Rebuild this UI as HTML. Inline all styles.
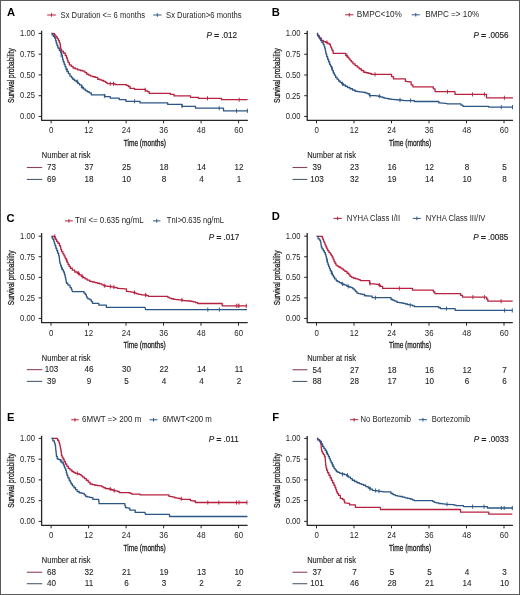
<!DOCTYPE html>
<html><head><meta charset="utf-8"><style>
html,body{margin:0;padding:0;background:#fff;}
svg{display:block;will-change:transform;}
text{font-family:"Liberation Sans", sans-serif;}
</style></head><body>
<svg width="520" height="595" viewBox="0 0 520 595">
<rect x="0" y="0" width="520" height="595" fill="#fff"/>
<rect x="0.5" y="0.5" width="519" height="594" fill="none" stroke="#5a5a5a" stroke-width="1"/>
<text x="6.9" y="16.05" font-size="11.2" font-weight="bold" fill="#000">A</text>
<line x1="47.2" y1="15.0" x2="55.9" y2="15.0" stroke="#B8203F" stroke-width="1.0"/>
<line x1="51.55" y1="13.20" x2="51.55" y2="16.80" stroke="#B8203F" stroke-width="1.0"/>
<text x="60.60" y="17.55" font-size="8.3" textLength="84.40" lengthAdjust="spacingAndGlyphs" fill="#1e1e1e">Sx Duration &lt;= 6 months</text>
<line x1="153.2" y1="15.0" x2="161.5" y2="15.0" stroke="#2F5A87" stroke-width="1.0"/>
<line x1="157.35" y1="13.20" x2="157.35" y2="16.80" stroke="#2F5A87" stroke-width="1.0"/>
<text x="166.10" y="17.55" font-size="8.3" textLength="75.50" lengthAdjust="spacingAndGlyphs" fill="#1e1e1e">Sx Duration&gt;6 months</text>
<path d="M41.6,30.85 V120.3 H247.9" fill="none" stroke="#262626" stroke-width="1.3" stroke-linejoin="round"/>
<line x1="38.6" y1="116.45" x2="41.6" y2="116.45" stroke="#262626" stroke-width="1"/>
<text transform="translate(34.90,119.25) scale(0.92,1)" font-size="8.3" fill="#1e1e1e" text-anchor="end">0.00</text>
<line x1="38.6" y1="95.69" x2="41.6" y2="95.69" stroke="#262626" stroke-width="1"/>
<text transform="translate(34.90,98.49) scale(0.92,1)" font-size="8.3" fill="#1e1e1e" text-anchor="end">0.25</text>
<line x1="38.6" y1="74.92" x2="41.6" y2="74.92" stroke="#262626" stroke-width="1"/>
<text transform="translate(34.90,77.72) scale(0.92,1)" font-size="8.3" fill="#1e1e1e" text-anchor="end">0.50</text>
<line x1="38.6" y1="54.16" x2="41.6" y2="54.16" stroke="#262626" stroke-width="1"/>
<text transform="translate(34.90,56.96) scale(0.92,1)" font-size="8.3" fill="#1e1e1e" text-anchor="end">0.75</text>
<line x1="38.6" y1="33.40" x2="41.6" y2="33.40" stroke="#262626" stroke-width="1"/>
<text transform="translate(34.90,36.20) scale(0.92,1)" font-size="8.3" fill="#1e1e1e" text-anchor="end">1.00</text>
<line x1="51.10" y1="120.3" x2="51.10" y2="123.3" stroke="#262626" stroke-width="1"/>
<text transform="translate(51.25,133.20) scale(0.95,1)" font-size="8.3" fill="#1e1e1e" text-anchor="middle">0</text>
<line x1="88.60" y1="120.3" x2="88.60" y2="123.3" stroke="#262626" stroke-width="1"/>
<text transform="translate(88.75,133.20) scale(0.95,1)" font-size="8.3" fill="#1e1e1e" text-anchor="middle">12</text>
<line x1="126.10" y1="120.3" x2="126.10" y2="123.3" stroke="#262626" stroke-width="1"/>
<text transform="translate(126.25,133.20) scale(0.95,1)" font-size="8.3" fill="#1e1e1e" text-anchor="middle">24</text>
<line x1="163.60" y1="120.3" x2="163.60" y2="123.3" stroke="#262626" stroke-width="1"/>
<text transform="translate(163.75,133.20) scale(0.95,1)" font-size="8.3" fill="#1e1e1e" text-anchor="middle">36</text>
<line x1="201.10" y1="120.3" x2="201.10" y2="123.3" stroke="#262626" stroke-width="1"/>
<text transform="translate(201.25,133.20) scale(0.95,1)" font-size="8.3" fill="#1e1e1e" text-anchor="middle">48</text>
<line x1="238.60" y1="120.3" x2="238.60" y2="123.3" stroke="#262626" stroke-width="1"/>
<text transform="translate(238.75,133.20) scale(0.95,1)" font-size="8.3" fill="#1e1e1e" text-anchor="middle">60</text>
<text transform="translate(144.75,145.65) scale(0.75,1)" font-size="8.8" fill="#1e1e1e" stroke="#1e1e1e" stroke-width="0.3" text-anchor="middle">Time (months)</text>
<text transform="translate(14.10,75.58) rotate(-90) scale(0.74,1)" font-size="8.8" fill="#1e1e1e" stroke="#1e1e1e" stroke-width="0.3" text-anchor="middle">Survival probability</text>
<text x="206.6" y="37.7" font-size="8.15" fill="#1e1e1e" stroke="#1e1e1e" stroke-width="0.15"><tspan font-style="italic">P</tspan> <tspan stroke-width="0.55">=</tspan> .012</text>
<path d="M51.60,33.40 L54.00,33.60 H54.62V35.17 H55.88V36.75 H56.50 H57.12V38.62 H58.38V40.50 H59.00 H59.31V42.38 H59.94V44.25 H60.25 H60.41V46.75 H60.74V49.25 H60.90 H61.50V51.10 H62.10 H63.35V53.00 H64.60 H65.22V55.50 H66.47V58.00 H67.10 H67.42V60.20 H68.08V62.40 H68.40 H69.33V64.90 H70.25 H71.19V66.45 H73.06V68.00 H74.00 H75.25V68.95 H77.75V69.90 H79.00 H80.25V70.50 H82.75V71.10 H84.00 H84.94V72.67 H86.81V74.25 H87.75 H88.69V75.17 H90.56V76.10 H91.50 H92.75V76.75 H95.25V77.40 H96.50 H97.75V79.25 H99.00 H99.94V79.88 H101.81V80.50 H102.75 H103.69V81.45 H105.56V82.40 H106.50 H107.00V83.60 H107.50 H115.00 V84.60 H125.60 H126.40V85.40 H127.20 H128.25V86.50 H129.30 H130.10V88.40 H130.90 H134.60 V89.40 H144.20 H145.50V90.90 H146.80 H147.60V91.70 H148.40 H149.20V93.30 H150.00 H169.80 H170.35V94.30 H170.90 H173.50 H174.05V95.90 H174.60 H189.90 H190.45V97.30 H191.00 H197.90 H198.40V98.30 H198.90 H221.50 V99.70 H247.60" fill="none" stroke="#B8203F" stroke-width="1.3" stroke-linejoin="round"/>
<line x1="110.3" y1="81.7" x2="110.3" y2="85.89999999999999" stroke="#B8203F" stroke-width="0.9"/>
<line x1="113.5" y1="81.7" x2="113.5" y2="85.89999999999999" stroke="#B8203F" stroke-width="0.9"/>
<line x1="145.2" y1="87.7" x2="145.2" y2="91.89999999999999" stroke="#B8203F" stroke-width="0.9"/>
<line x1="207.5" y1="96.2" x2="207.5" y2="100.39999999999999" stroke="#B8203F" stroke-width="0.9"/>
<line x1="239.2" y1="97.60000000000001" x2="239.2" y2="101.8" stroke="#B8203F" stroke-width="0.9"/>
<path d="M51.60,33.40 H52.17V34.90 H52.75 H53.38V36.45 H54.62V38.00 H55.25 H55.56V40.50 H56.19V43.00 H56.50 H56.98V45.50 H57.92V48.00 H58.40 H59.33V50.50 H60.25 H60.71V52.70 H61.64V54.90 H62.10 H62.26V57.08 H62.59V59.25 H62.75 H63.21V61.75 H64.14V64.25 H64.60 H65.07V66.75 H66.03V69.25 H66.50 H67.12V71.42 H68.38V73.60 H69.00 H69.95V76.10 H70.90 H71.53V77.67 H72.78V79.25 H73.40 H74.33V80.50 H76.17V81.75 H77.10 H77.89V83.33 H79.46V84.90 H80.25 H81.50V87.40 H82.75 H83.61V89.05 H85.34V90.70 H86.20 H87.20V91.75 H89.20V92.80 H90.20 H91.25V94.80 H92.30 H104.40 H104.90V96.60 H105.40 H109.20 H110.25V98.10 H111.30 H118.20 H119.25V99.70 H120.30 H125.10 H125.90V101.30 H126.70 H140.00 V102.90 H167.70 V104.40 H182.00 V106.30 H195.50 V108.20 H223.50 V110.80 H247.60" fill="none" stroke="#2B5685" stroke-width="1.3" stroke-linejoin="round"/>
<line x1="61.1" y1="53.1" x2="61.1" y2="57.300000000000004" stroke="#2B5685" stroke-width="0.9"/>
<line x1="67" y1="68.2" x2="67" y2="72.39999999999999" stroke="#2B5685" stroke-width="0.9"/>
<line x1="77.6" y1="79.60000000000001" x2="77.6" y2="83.8" stroke="#2B5685" stroke-width="0.9"/>
<line x1="82.2" y1="85.10000000000001" x2="82.2" y2="89.3" stroke="#2B5685" stroke-width="0.9"/>
<line x1="104.4" y1="93.9" x2="104.4" y2="98.1" stroke="#2B5685" stroke-width="0.9"/>
<line x1="134.6" y1="99.2" x2="134.6" y2="103.39999999999999" stroke="#2B5685" stroke-width="0.9"/>
<line x1="182" y1="103.9" x2="182" y2="108.1" stroke="#2B5685" stroke-width="0.9"/>
<line x1="219.2" y1="106.10000000000001" x2="219.2" y2="110.3" stroke="#2B5685" stroke-width="0.9"/>
<line x1="236.5" y1="108.7" x2="236.5" y2="112.89999999999999" stroke="#2B5685" stroke-width="0.9"/>
<line x1="247.4" y1="108.7" x2="247.4" y2="112.89999999999999" stroke="#2B5685" stroke-width="0.9"/>
<text transform="translate(41.800000000000004,158.3) scale(0.92,1)" font-size="8.15" fill="#1e1e1e" stroke="#1e1e1e" stroke-width="0.1">Number at risk</text>
<line x1="26.8" y1="167.5" x2="42.2" y2="167.5" stroke="#8A4458" stroke-width="1.1"/>
<text transform="translate(51.55,170.25) scale(0.9,1)" font-size="9" fill="#1e1e1e" stroke="#1e1e1e" stroke-width="0.1" text-anchor="middle">73</text>
<text transform="translate(89.05,170.25) scale(0.9,1)" font-size="9" fill="#1e1e1e" stroke="#1e1e1e" stroke-width="0.1" text-anchor="middle">37</text>
<text transform="translate(126.55,170.25) scale(0.9,1)" font-size="9" fill="#1e1e1e" stroke="#1e1e1e" stroke-width="0.1" text-anchor="middle">25</text>
<text transform="translate(164.05,170.25) scale(0.9,1)" font-size="9" fill="#1e1e1e" stroke="#1e1e1e" stroke-width="0.1" text-anchor="middle">18</text>
<text transform="translate(201.55,170.25) scale(0.9,1)" font-size="9" fill="#1e1e1e" stroke="#1e1e1e" stroke-width="0.1" text-anchor="middle">14</text>
<text transform="translate(239.05,170.25) scale(0.9,1)" font-size="9" fill="#1e1e1e" stroke="#1e1e1e" stroke-width="0.1" text-anchor="middle">12</text>
<line x1="26.8" y1="179.45" x2="42.2" y2="179.45" stroke="#4C5F74" stroke-width="1.1"/>
<text transform="translate(51.55,182.20) scale(0.9,1)" font-size="9" fill="#1e1e1e" stroke="#1e1e1e" stroke-width="0.1" text-anchor="middle">69</text>
<text transform="translate(89.05,182.20) scale(0.9,1)" font-size="9" fill="#1e1e1e" stroke="#1e1e1e" stroke-width="0.1" text-anchor="middle">18</text>
<text transform="translate(126.55,182.20) scale(0.9,1)" font-size="9" fill="#1e1e1e" stroke="#1e1e1e" stroke-width="0.1" text-anchor="middle">10</text>
<text transform="translate(164.05,182.20) scale(0.9,1)" font-size="9" fill="#1e1e1e" stroke="#1e1e1e" stroke-width="0.1" text-anchor="middle">8</text>
<text transform="translate(201.55,182.20) scale(0.9,1)" font-size="9" fill="#1e1e1e" stroke="#1e1e1e" stroke-width="0.1" text-anchor="middle">4</text>
<text transform="translate(239.05,182.20) scale(0.9,1)" font-size="9" fill="#1e1e1e" stroke="#1e1e1e" stroke-width="0.1" text-anchor="middle">1</text>
<text x="271.8" y="16.05" font-size="11.2" font-weight="bold" fill="#000">B</text>
<line x1="345.1" y1="14.8" x2="353.5" y2="14.8" stroke="#B8203F" stroke-width="1.0"/>
<line x1="349.30" y1="13.00" x2="349.30" y2="16.60" stroke="#B8203F" stroke-width="1.0"/>
<text x="356.80" y="17.35" font-size="8.3" textLength="45.10" lengthAdjust="spacingAndGlyphs" fill="#1e1e1e">BMPC&lt;10%</text>
<line x1="411.7" y1="14.8" x2="419.8" y2="14.8" stroke="#2F5A87" stroke-width="1.0"/>
<line x1="415.75" y1="13.00" x2="415.75" y2="16.60" stroke="#2F5A87" stroke-width="1.0"/>
<text x="425.20" y="17.35" font-size="8.3" textLength="54.00" lengthAdjust="spacingAndGlyphs" fill="#1e1e1e">BMPC =&gt; 10%</text>
<path d="M307.2,30.85 V120.3 H513.0" fill="none" stroke="#262626" stroke-width="1.3" stroke-linejoin="round"/>
<line x1="304.2" y1="116.45" x2="307.2" y2="116.45" stroke="#262626" stroke-width="1"/>
<text transform="translate(300.50,119.25) scale(0.92,1)" font-size="8.3" fill="#1e1e1e" text-anchor="end">0.00</text>
<line x1="304.2" y1="95.71" x2="307.2" y2="95.71" stroke="#262626" stroke-width="1"/>
<text transform="translate(300.50,98.51) scale(0.92,1)" font-size="8.3" fill="#1e1e1e" text-anchor="end">0.25</text>
<line x1="304.2" y1="74.97" x2="307.2" y2="74.97" stroke="#262626" stroke-width="1"/>
<text transform="translate(300.50,77.77) scale(0.92,1)" font-size="8.3" fill="#1e1e1e" text-anchor="end">0.50</text>
<line x1="304.2" y1="54.24" x2="307.2" y2="54.24" stroke="#262626" stroke-width="1"/>
<text transform="translate(300.50,57.04) scale(0.92,1)" font-size="8.3" fill="#1e1e1e" text-anchor="end">0.75</text>
<line x1="304.2" y1="33.50" x2="307.2" y2="33.50" stroke="#262626" stroke-width="1"/>
<text transform="translate(300.50,36.30) scale(0.92,1)" font-size="8.3" fill="#1e1e1e" text-anchor="end">1.00</text>
<line x1="316.50" y1="120.3" x2="316.50" y2="123.3" stroke="#262626" stroke-width="1"/>
<text transform="translate(316.65,133.20) scale(0.95,1)" font-size="8.3" fill="#1e1e1e" text-anchor="middle">0</text>
<line x1="354.00" y1="120.3" x2="354.00" y2="123.3" stroke="#262626" stroke-width="1"/>
<text transform="translate(354.15,133.20) scale(0.95,1)" font-size="8.3" fill="#1e1e1e" text-anchor="middle">12</text>
<line x1="391.50" y1="120.3" x2="391.50" y2="123.3" stroke="#262626" stroke-width="1"/>
<text transform="translate(391.65,133.20) scale(0.95,1)" font-size="8.3" fill="#1e1e1e" text-anchor="middle">24</text>
<line x1="429.00" y1="120.3" x2="429.00" y2="123.3" stroke="#262626" stroke-width="1"/>
<text transform="translate(429.15,133.20) scale(0.95,1)" font-size="8.3" fill="#1e1e1e" text-anchor="middle">36</text>
<line x1="466.50" y1="120.3" x2="466.50" y2="123.3" stroke="#262626" stroke-width="1"/>
<text transform="translate(466.65,133.20) scale(0.95,1)" font-size="8.3" fill="#1e1e1e" text-anchor="middle">48</text>
<line x1="504.00" y1="120.3" x2="504.00" y2="123.3" stroke="#262626" stroke-width="1"/>
<text transform="translate(504.15,133.20) scale(0.95,1)" font-size="8.3" fill="#1e1e1e" text-anchor="middle">60</text>
<text transform="translate(410.10,145.65) scale(0.75,1)" font-size="8.8" fill="#1e1e1e" stroke="#1e1e1e" stroke-width="0.3" text-anchor="middle">Time (months)</text>
<text transform="translate(279.70,75.58) rotate(-90) scale(0.74,1)" font-size="8.8" fill="#1e1e1e" stroke="#1e1e1e" stroke-width="0.3" text-anchor="middle">Survival probability</text>
<text x="473.5" y="38.0" font-size="8.15" fill="#1e1e1e" stroke="#1e1e1e" stroke-width="0.15"><tspan font-style="italic">P</tspan> <tspan stroke-width="0.55">=</tspan> .0056</text>
<path d="M316.90,33.50 H317.67V35.75 H319.23V38.00 H320.00 H321.25V40.50 H322.50 H323.50V41.60 H324.50 H325.70V42.40 H326.90 H327.67V43.33 H329.23V44.25 H330.00 H330.31V45.83 H330.94V47.40 H331.25 H331.56V48.95 H332.19V50.50 H332.50 H333.12V53.30 H333.75 H344.60 H345.75V55.60 H346.90 H347.55V57.20 H348.85V58.80 H349.50 H350.10V60.35 H351.30V61.90 H351.90 H352.95V63.80 H354.00 H355.12V65.60 H356.25 H357.19V67.17 H359.06V68.75 H360.00 H361.25V70.50 H363.75V72.25 H365.00 H366.04V72.75 H368.12V73.25 H370.21V73.75 H371.25 H371.62V74.40 H372.00 H390.60 H391.55V76.60 H392.50 H393.45V78.90 H394.40 H404.80 H405.40V81.30 H406.00 H407.00V81.60 H409.00V81.90 H410.00 H411.15V84.80 H412.30 H412.90V86.80 H413.50 H432.50 H433.35V88.80 H434.20 H435.05V91.70 H435.90 H454.40 H455.00V94.40 H455.60 H486.50 V97.80 H513.00" fill="none" stroke="#B8203F" stroke-width="1.3" stroke-linejoin="round"/>
<line x1="326.9" y1="40.3" x2="326.9" y2="44.5" stroke="#B8203F" stroke-width="0.9"/>
<line x1="346.9" y1="53.5" x2="346.9" y2="57.7" stroke="#B8203F" stroke-width="0.9"/>
<line x1="375" y1="72.30000000000001" x2="375" y2="76.5" stroke="#B8203F" stroke-width="0.9"/>
<line x1="447.5" y1="89.60000000000001" x2="447.5" y2="93.8" stroke="#B8203F" stroke-width="0.9"/>
<line x1="472.5" y1="92.30000000000001" x2="472.5" y2="96.5" stroke="#B8203F" stroke-width="0.9"/>
<line x1="484.4" y1="92.30000000000001" x2="484.4" y2="96.5" stroke="#B8203F" stroke-width="0.9"/>
<line x1="504.4" y1="95.7" x2="504.4" y2="99.89999999999999" stroke="#B8203F" stroke-width="0.9"/>
<path d="M316.90,33.50 H317.44V35.25 H318.53V37.00 H319.62V38.75 H320.71V40.50 H321.25 H321.88V42.38 H323.12V44.25 H323.75 H324.06V46.12 H324.69V48.00 H325.00 H325.21V50.08 H325.62V52.17 H326.04V54.25 H326.25 H326.71V56.75 H327.64V59.25 H328.10 H328.58V61.75 H329.52V64.25 H330.00 H330.48V66.12 H331.42V68.00 H331.90 H332.36V70.50 H333.29V73.00 H333.75 H334.38V75.20 H335.62V77.40 H336.25 H337.04V79.20 H338.61V81.00 H339.40 H340.17V82.38 H341.73V83.75 H342.50 H343.44V85.00 H345.31V86.25 H346.25 H347.50V87.50 H350.00V88.75 H351.25 H352.50V90.00 H355.00V91.25 H356.25 H357.34V91.56 H359.53V91.88 H361.72V92.19 H363.91V92.50 H365.00 H365.94V93.12 H367.81V93.75 H368.75 H369.38V95.60 H370.00 H375.00 H376.10V95.92 H378.30V96.25 H379.40 H380.33V96.87 H382.20V97.48 H384.07V98.10 H385.00 H385.94V98.42 H387.81V98.75 H389.69V99.08 H391.56V99.40 H392.50 L400.00,100.00 L405.00,100.60 H413.50 H414.35V101.50 H415.20 H437.70 H438.85V102.90 H440.00 L445.70,103.30 L447.50,103.80 H460.00 H460.95V105.05 H462.85V106.30 H463.80 H488.10 H488.75V107.10 H489.40 H512.80" fill="none" stroke="#2B5685" stroke-width="1.3" stroke-linejoin="round"/>
<line x1="331.9" y1="65.9" x2="331.9" y2="70.1" stroke="#2B5685" stroke-width="0.9"/>
<line x1="342.5" y1="81.65" x2="342.5" y2="85.85" stroke="#2B5685" stroke-width="0.9"/>
<line x1="370" y1="93.5" x2="370" y2="97.69999999999999" stroke="#2B5685" stroke-width="0.9"/>
<line x1="379.4" y1="94.15" x2="379.4" y2="98.35" stroke="#2B5685" stroke-width="0.9"/>
<line x1="400" y1="97.9" x2="400" y2="102.1" stroke="#2B5685" stroke-width="0.9"/>
<line x1="410.6" y1="98.30000000000001" x2="410.6" y2="102.5" stroke="#2B5685" stroke-width="0.9"/>
<line x1="501.3" y1="105.0" x2="501.3" y2="109.19999999999999" stroke="#2B5685" stroke-width="0.9"/>
<line x1="512.5" y1="105.0" x2="512.5" y2="109.19999999999999" stroke="#2B5685" stroke-width="0.9"/>
<text transform="translate(307.2,158.3) scale(0.92,1)" font-size="8.15" fill="#1e1e1e" stroke="#1e1e1e" stroke-width="0.1">Number at risk</text>
<line x1="292.5" y1="167.5" x2="307.3" y2="167.5" stroke="#8A4458" stroke-width="1.1"/>
<text transform="translate(316.95,170.25) scale(0.9,1)" font-size="9" fill="#1e1e1e" stroke="#1e1e1e" stroke-width="0.1" text-anchor="middle">39</text>
<text transform="translate(354.45,170.25) scale(0.9,1)" font-size="9" fill="#1e1e1e" stroke="#1e1e1e" stroke-width="0.1" text-anchor="middle">23</text>
<text transform="translate(391.95,170.25) scale(0.9,1)" font-size="9" fill="#1e1e1e" stroke="#1e1e1e" stroke-width="0.1" text-anchor="middle">16</text>
<text transform="translate(429.45,170.25) scale(0.9,1)" font-size="9" fill="#1e1e1e" stroke="#1e1e1e" stroke-width="0.1" text-anchor="middle">12</text>
<text transform="translate(466.95,170.25) scale(0.9,1)" font-size="9" fill="#1e1e1e" stroke="#1e1e1e" stroke-width="0.1" text-anchor="middle">8</text>
<text transform="translate(504.45,170.25) scale(0.9,1)" font-size="9" fill="#1e1e1e" stroke="#1e1e1e" stroke-width="0.1" text-anchor="middle">5</text>
<line x1="292.5" y1="179.45" x2="307.3" y2="179.45" stroke="#4C5F74" stroke-width="1.1"/>
<text transform="translate(316.95,182.20) scale(0.9,1)" font-size="9" fill="#1e1e1e" stroke="#1e1e1e" stroke-width="0.1" text-anchor="middle">103</text>
<text transform="translate(354.45,182.20) scale(0.9,1)" font-size="9" fill="#1e1e1e" stroke="#1e1e1e" stroke-width="0.1" text-anchor="middle">32</text>
<text transform="translate(391.95,182.20) scale(0.9,1)" font-size="9" fill="#1e1e1e" stroke="#1e1e1e" stroke-width="0.1" text-anchor="middle">19</text>
<text transform="translate(429.45,182.20) scale(0.9,1)" font-size="9" fill="#1e1e1e" stroke="#1e1e1e" stroke-width="0.1" text-anchor="middle">14</text>
<text transform="translate(466.95,182.20) scale(0.9,1)" font-size="9" fill="#1e1e1e" stroke="#1e1e1e" stroke-width="0.1" text-anchor="middle">10</text>
<text transform="translate(504.45,182.20) scale(0.9,1)" font-size="9" fill="#1e1e1e" stroke="#1e1e1e" stroke-width="0.1" text-anchor="middle">8</text>
<text x="6.5" y="221.65" font-size="11.2" font-weight="bold" fill="#000">C</text>
<line x1="65.0" y1="220.9" x2="72.8" y2="220.9" stroke="#B8203F" stroke-width="1.0"/>
<line x1="68.90" y1="219.10" x2="68.90" y2="222.70" stroke="#B8203F" stroke-width="1.0"/>
<text x="74.90" y="223.45" font-size="8.3" textLength="68.70" lengthAdjust="spacingAndGlyphs" fill="#1e1e1e">TnI &lt;= 0.635 ng/mL</text>
<line x1="153.0" y1="220.9" x2="160.4" y2="220.9" stroke="#2F5A87" stroke-width="1.0"/>
<line x1="156.70" y1="219.10" x2="156.70" y2="222.70" stroke="#2F5A87" stroke-width="1.0"/>
<text x="166.80" y="223.45" font-size="8.3" textLength="57.10" lengthAdjust="spacingAndGlyphs" fill="#1e1e1e">TnI&gt;0.635 ng/mL</text>
<path d="M41.6,233.1 V322.7 H247.7" fill="none" stroke="#262626" stroke-width="1.3" stroke-linejoin="round"/>
<line x1="38.6" y1="318.45" x2="41.6" y2="318.45" stroke="#262626" stroke-width="1"/>
<text transform="translate(34.90,321.25) scale(0.92,1)" font-size="8.3" fill="#1e1e1e" text-anchor="end">0.00</text>
<line x1="38.6" y1="297.89" x2="41.6" y2="297.89" stroke="#262626" stroke-width="1"/>
<text transform="translate(34.90,300.69) scale(0.92,1)" font-size="8.3" fill="#1e1e1e" text-anchor="end">0.25</text>
<line x1="38.6" y1="277.32" x2="41.6" y2="277.32" stroke="#262626" stroke-width="1"/>
<text transform="translate(34.90,280.12) scale(0.92,1)" font-size="8.3" fill="#1e1e1e" text-anchor="end">0.50</text>
<line x1="38.6" y1="256.76" x2="41.6" y2="256.76" stroke="#262626" stroke-width="1"/>
<text transform="translate(34.90,259.56) scale(0.92,1)" font-size="8.3" fill="#1e1e1e" text-anchor="end">0.75</text>
<line x1="38.6" y1="236.20" x2="41.6" y2="236.20" stroke="#262626" stroke-width="1"/>
<text transform="translate(34.90,239.00) scale(0.92,1)" font-size="8.3" fill="#1e1e1e" text-anchor="end">1.00</text>
<line x1="51.00" y1="322.7" x2="51.00" y2="325.7" stroke="#262626" stroke-width="1"/>
<text transform="translate(51.15,335.60) scale(0.95,1)" font-size="8.3" fill="#1e1e1e" text-anchor="middle">0</text>
<line x1="88.50" y1="322.7" x2="88.50" y2="325.7" stroke="#262626" stroke-width="1"/>
<text transform="translate(88.65,335.60) scale(0.95,1)" font-size="8.3" fill="#1e1e1e" text-anchor="middle">12</text>
<line x1="126.00" y1="322.7" x2="126.00" y2="325.7" stroke="#262626" stroke-width="1"/>
<text transform="translate(126.15,335.60) scale(0.95,1)" font-size="8.3" fill="#1e1e1e" text-anchor="middle">24</text>
<line x1="163.50" y1="322.7" x2="163.50" y2="325.7" stroke="#262626" stroke-width="1"/>
<text transform="translate(163.65,335.60) scale(0.95,1)" font-size="8.3" fill="#1e1e1e" text-anchor="middle">36</text>
<line x1="201.00" y1="322.7" x2="201.00" y2="325.7" stroke="#262626" stroke-width="1"/>
<text transform="translate(201.15,335.60) scale(0.95,1)" font-size="8.3" fill="#1e1e1e" text-anchor="middle">48</text>
<line x1="238.50" y1="322.7" x2="238.50" y2="325.7" stroke="#262626" stroke-width="1"/>
<text transform="translate(238.65,335.60) scale(0.95,1)" font-size="8.3" fill="#1e1e1e" text-anchor="middle">60</text>
<text transform="translate(144.65,348.05) scale(0.75,1)" font-size="8.8" fill="#1e1e1e" stroke="#1e1e1e" stroke-width="0.3" text-anchor="middle">Time (months)</text>
<text transform="translate(14.10,277.90) rotate(-90) scale(0.74,1)" font-size="8.8" fill="#1e1e1e" stroke="#1e1e1e" stroke-width="0.3" text-anchor="middle">Survival probability</text>
<text x="208.8" y="239.9" font-size="8.15" fill="#1e1e1e" stroke="#1e1e1e" stroke-width="0.15"><tspan font-style="italic">P</tspan> <tspan stroke-width="0.55">=</tspan> .017</text>
<path d="M51.60,236.30 H54.75 H55.06V237.90 H55.69V239.50 H56.00 H56.62V241.38 H57.88V243.25 H58.50 H59.45V245.75 H60.40 H60.55V247.62 H60.85V249.50 H61.00 H61.62V251.70 H62.88V253.90 H63.50 H64.02V255.97 H65.05V258.03 H66.08V260.10 H66.60 H67.07V262.30 H68.03V264.50 H68.50 H69.12V266.38 H70.38V268.25 H71.00 H72.25V270.12 H74.75V272.00 H76.00 H77.25V273.25 H78.50 H79.44V274.82 H81.31V276.40 H82.25 H83.19V277.65 H85.06V278.90 H86.00 H87.25V280.15 H89.75V281.40 H91.00 H92.25V282.00 H94.75V282.60 H96.00 H97.25V283.25 H99.75V283.90 H101.00 H101.94V284.82 H103.81V285.75 H104.75 H105.69V286.07 H107.56V286.40 H108.50 L110.40,286.50 H111.25V286.80 H112.95V287.10 H113.80 H114.95V287.70 H117.25V288.30 H118.40 L125.40,288.80 H126.45V291.30 H127.50 H128.65V291.70 H130.95V292.10 H133.25V292.50 H134.40 H135.18V293.15 H136.72V293.80 H137.50 H138.75V294.30 H141.25V294.80 H142.50 L145.60,295.00 H146.55V295.65 H148.45V296.30 H149.40 H166.90 H167.68V297.20 H169.22V298.10 H170.00 H171.25V298.75 H173.75V299.40 H175.00 H176.15V299.60 H178.45V299.80 H180.75V300.00 H181.90 H182.85V300.60 H183.80 L190.00,301.00 H191.10V301.45 H193.30V301.90 H194.40 H195.50V302.70 H197.70V303.50 H198.80 H221.30 H222.20V305.80 H223.10 H247.00" fill="none" stroke="#B8203F" stroke-width="1.3" stroke-linejoin="round"/>
<line x1="54.75" y1="234.3" x2="54.75" y2="238.5" stroke="#B8203F" stroke-width="0.9"/>
<line x1="66.6" y1="258.0" x2="66.6" y2="262.20000000000005" stroke="#B8203F" stroke-width="0.9"/>
<line x1="78.5" y1="271.15" x2="78.5" y2="275.35" stroke="#B8203F" stroke-width="0.9"/>
<line x1="82.25" y1="274.29999999999995" x2="82.25" y2="278.5" stroke="#B8203F" stroke-width="0.9"/>
<line x1="104.75" y1="283.65" x2="104.75" y2="287.85" stroke="#B8203F" stroke-width="0.9"/>
<line x1="110.4" y1="284.4" x2="110.4" y2="288.6" stroke="#B8203F" stroke-width="0.9"/>
<line x1="113.8" y1="285.0" x2="113.8" y2="289.20000000000005" stroke="#B8203F" stroke-width="0.9"/>
<line x1="134.4" y1="290.4" x2="134.4" y2="294.6" stroke="#B8203F" stroke-width="0.9"/>
<line x1="145.6" y1="292.9" x2="145.6" y2="297.1" stroke="#B8203F" stroke-width="0.9"/>
<line x1="181.9" y1="297.9" x2="181.9" y2="302.1" stroke="#B8203F" stroke-width="0.9"/>
<line x1="236.3" y1="303.7" x2="236.3" y2="307.90000000000003" stroke="#B8203F" stroke-width="0.9"/>
<line x1="238.1" y1="303.7" x2="238.1" y2="307.90000000000003" stroke="#B8203F" stroke-width="0.9"/>
<line x1="239" y1="303.7" x2="239" y2="307.90000000000003" stroke="#B8203F" stroke-width="0.9"/>
<line x1="246.3" y1="303.7" x2="246.3" y2="307.90000000000003" stroke="#B8203F" stroke-width="0.9"/>
<path d="M51.60,236.30 H52.08V237.90 H53.02V239.50 H53.50 H53.82V241.58 H54.45V243.67 H55.08V245.75 H55.40 H55.86V248.25 H56.79V250.75 H57.25 H57.71V253.25 H58.64V255.75 H59.10 H59.21V257.83 H59.42V259.92 H59.64V262.00 H59.75 H60.06V263.87 H60.67V265.73 H61.29V267.60 H61.60 H62.23V269.80 H63.47V272.00 H64.10 H64.42V274.50 H65.08V277.00 H65.40 H65.60V279.08 H66.00V281.17 H66.40V283.25 H66.60 H67.85V285.10 H69.10 H70.05V287.60 H71.00 H71.31V289.18 H71.94V290.75 H72.25 L72.50,291.60 H83.30 H84.00V293.10 H85.40V294.60 H86.10 H86.40V296.35 H87.00V298.10 H87.30 H88.17V298.95 H89.92V299.80 H90.80 H91.38V301.55 H92.52V303.30 H93.10 H98.30 H98.85V305.20 H99.40 H105.80 H106.35V307.30 H106.90 H145.00 L145.60,309.60 H247.00" fill="none" stroke="#2B5685" stroke-width="1.3" stroke-linejoin="round"/>
<line x1="61.6" y1="265.5" x2="61.6" y2="269.70000000000005" stroke="#2B5685" stroke-width="0.9"/>
<line x1="207.8" y1="307.5" x2="207.8" y2="311.70000000000005" stroke="#2B5685" stroke-width="0.9"/>
<line x1="219.4" y1="307.5" x2="219.4" y2="311.70000000000005" stroke="#2B5685" stroke-width="0.9"/>
<text transform="translate(41.800000000000004,361.0) scale(0.92,1)" font-size="8.15" fill="#1e1e1e" stroke="#1e1e1e" stroke-width="0.1">Number at risk</text>
<line x1="26.8" y1="369.65" x2="42.2" y2="369.65" stroke="#8A4458" stroke-width="1.1"/>
<text transform="translate(51.45,372.40) scale(0.9,1)" font-size="9" fill="#1e1e1e" stroke="#1e1e1e" stroke-width="0.1" text-anchor="middle">103</text>
<text transform="translate(88.95,372.40) scale(0.9,1)" font-size="9" fill="#1e1e1e" stroke="#1e1e1e" stroke-width="0.1" text-anchor="middle">46</text>
<text transform="translate(126.45,372.40) scale(0.9,1)" font-size="9" fill="#1e1e1e" stroke="#1e1e1e" stroke-width="0.1" text-anchor="middle">30</text>
<text transform="translate(163.95,372.40) scale(0.9,1)" font-size="9" fill="#1e1e1e" stroke="#1e1e1e" stroke-width="0.1" text-anchor="middle">22</text>
<text transform="translate(201.45,372.40) scale(0.9,1)" font-size="9" fill="#1e1e1e" stroke="#1e1e1e" stroke-width="0.1" text-anchor="middle">14</text>
<text transform="translate(238.95,372.40) scale(0.9,1)" font-size="9" fill="#1e1e1e" stroke="#1e1e1e" stroke-width="0.1" text-anchor="middle">11</text>
<line x1="26.8" y1="381.4" x2="42.2" y2="381.4" stroke="#4C5F74" stroke-width="1.1"/>
<text transform="translate(51.45,384.15) scale(0.9,1)" font-size="9" fill="#1e1e1e" stroke="#1e1e1e" stroke-width="0.1" text-anchor="middle">39</text>
<text transform="translate(88.95,384.15) scale(0.9,1)" font-size="9" fill="#1e1e1e" stroke="#1e1e1e" stroke-width="0.1" text-anchor="middle">9</text>
<text transform="translate(126.45,384.15) scale(0.9,1)" font-size="9" fill="#1e1e1e" stroke="#1e1e1e" stroke-width="0.1" text-anchor="middle">5</text>
<text transform="translate(163.95,384.15) scale(0.9,1)" font-size="9" fill="#1e1e1e" stroke="#1e1e1e" stroke-width="0.1" text-anchor="middle">4</text>
<text transform="translate(201.45,384.15) scale(0.9,1)" font-size="9" fill="#1e1e1e" stroke="#1e1e1e" stroke-width="0.1" text-anchor="middle">4</text>
<text transform="translate(238.95,384.15) scale(0.9,1)" font-size="9" fill="#1e1e1e" stroke="#1e1e1e" stroke-width="0.1" text-anchor="middle">2</text>
<text x="271.7" y="219.6" font-size="11.2" font-weight="bold" fill="#000">D</text>
<line x1="333.5" y1="218.4" x2="341.8" y2="218.4" stroke="#B8203F" stroke-width="1.0"/>
<line x1="337.65" y1="216.60" x2="337.65" y2="220.20" stroke="#B8203F" stroke-width="1.0"/>
<text x="346.80" y="220.95" font-size="8.3" textLength="53.30" lengthAdjust="spacingAndGlyphs" fill="#1e1e1e">NYHA Class I/II</text>
<line x1="412.8" y1="218.4" x2="420.9" y2="218.4" stroke="#2F5A87" stroke-width="1.0"/>
<line x1="416.85" y1="216.60" x2="416.85" y2="220.20" stroke="#2F5A87" stroke-width="1.0"/>
<text x="425.80" y="220.95" font-size="8.3" textLength="59.60" lengthAdjust="spacingAndGlyphs" fill="#1e1e1e">NYHA Class III/IV</text>
<path d="M307.2,233.1 V322.7 H512.8" fill="none" stroke="#262626" stroke-width="1.3" stroke-linejoin="round"/>
<line x1="304.2" y1="318.45" x2="307.2" y2="318.45" stroke="#262626" stroke-width="1"/>
<text transform="translate(300.50,321.25) scale(0.92,1)" font-size="8.3" fill="#1e1e1e" text-anchor="end">0.00</text>
<line x1="304.2" y1="297.89" x2="307.2" y2="297.89" stroke="#262626" stroke-width="1"/>
<text transform="translate(300.50,300.69) scale(0.92,1)" font-size="8.3" fill="#1e1e1e" text-anchor="end">0.25</text>
<line x1="304.2" y1="277.32" x2="307.2" y2="277.32" stroke="#262626" stroke-width="1"/>
<text transform="translate(300.50,280.12) scale(0.92,1)" font-size="8.3" fill="#1e1e1e" text-anchor="end">0.50</text>
<line x1="304.2" y1="256.76" x2="307.2" y2="256.76" stroke="#262626" stroke-width="1"/>
<text transform="translate(300.50,259.56) scale(0.92,1)" font-size="8.3" fill="#1e1e1e" text-anchor="end">0.75</text>
<line x1="304.2" y1="236.20" x2="307.2" y2="236.20" stroke="#262626" stroke-width="1"/>
<text transform="translate(300.50,239.00) scale(0.92,1)" font-size="8.3" fill="#1e1e1e" text-anchor="end">1.00</text>
<line x1="316.50" y1="322.7" x2="316.50" y2="325.7" stroke="#262626" stroke-width="1"/>
<text transform="translate(316.65,335.60) scale(0.95,1)" font-size="8.3" fill="#1e1e1e" text-anchor="middle">0</text>
<line x1="354.00" y1="322.7" x2="354.00" y2="325.7" stroke="#262626" stroke-width="1"/>
<text transform="translate(354.15,335.60) scale(0.95,1)" font-size="8.3" fill="#1e1e1e" text-anchor="middle">12</text>
<line x1="391.50" y1="322.7" x2="391.50" y2="325.7" stroke="#262626" stroke-width="1"/>
<text transform="translate(391.65,335.60) scale(0.95,1)" font-size="8.3" fill="#1e1e1e" text-anchor="middle">24</text>
<line x1="429.00" y1="322.7" x2="429.00" y2="325.7" stroke="#262626" stroke-width="1"/>
<text transform="translate(429.15,335.60) scale(0.95,1)" font-size="8.3" fill="#1e1e1e" text-anchor="middle">36</text>
<line x1="466.50" y1="322.7" x2="466.50" y2="325.7" stroke="#262626" stroke-width="1"/>
<text transform="translate(466.65,335.60) scale(0.95,1)" font-size="8.3" fill="#1e1e1e" text-anchor="middle">48</text>
<line x1="504.00" y1="322.7" x2="504.00" y2="325.7" stroke="#262626" stroke-width="1"/>
<text transform="translate(504.15,335.60) scale(0.95,1)" font-size="8.3" fill="#1e1e1e" text-anchor="middle">60</text>
<text transform="translate(410.00,348.05) scale(0.75,1)" font-size="8.8" fill="#1e1e1e" stroke="#1e1e1e" stroke-width="0.3" text-anchor="middle">Time (months)</text>
<text transform="translate(279.70,277.90) rotate(-90) scale(0.74,1)" font-size="8.8" fill="#1e1e1e" stroke="#1e1e1e" stroke-width="0.3" text-anchor="middle">Survival probability</text>
<text x="473.2" y="239.6" font-size="8.15" fill="#1e1e1e" stroke="#1e1e1e" stroke-width="0.15"><tspan font-style="italic">P</tspan> <tspan stroke-width="0.55">=</tspan> .0085</text>
<path d="M316.70,236.30 H322.00 H322.31V237.90 H322.94V239.50 H323.25 H323.56V241.05 H324.19V242.60 H324.50 H324.98V244.80 H325.92V247.00 H326.40 H326.86V248.88 H327.79V250.75 H328.25 H328.88V252.32 H330.12V253.90 H330.75 H331.21V255.45 H332.14V257.00 H332.60 H333.08V259.20 H334.02V261.40 H334.50 H334.98V263.25 H335.92V265.10 H336.40 H337.17V266.05 H338.73V267.00 H339.50 H340.27V267.95 H341.83V268.90 H342.60 H343.39V270.15 H344.96V271.40 H345.75 H347.00V273.25 H348.25 H348.88V274.82 H350.12V276.40 H350.75 H351.69V277.32 H353.56V278.25 H354.50 H355.75V278.93 H358.25V279.60 H359.50 H360.25V280.60 H361.00 H369.60 V283.60 H370.59V283.78 H372.56V283.95 H374.54V284.12 H376.51V284.30 H377.50 H378.45V285.10 H379.40 H380.45V286.40 H381.50 H382.62V288.40 H383.75 H411.90 H412.50V290.20 H413.10 H432.70 H433.43V291.90 H434.88V293.60 H435.60 H460.20 H460.75V295.40 H461.30 H462.50V297.10 H463.70 H486.10 H486.68V299.15 H487.82V301.20 H488.40 H512.70" fill="none" stroke="#B8203F" stroke-width="1.3" stroke-linejoin="round"/>
<line x1="370" y1="281.5" x2="370" y2="285.70000000000005" stroke="#B8203F" stroke-width="0.9"/>
<line x1="379.4" y1="283.0" x2="379.4" y2="287.20000000000005" stroke="#B8203F" stroke-width="0.9"/>
<line x1="399.4" y1="286.29999999999995" x2="399.4" y2="290.5" stroke="#B8203F" stroke-width="0.9"/>
<line x1="472.9" y1="295.0" x2="472.9" y2="299.20000000000005" stroke="#B8203F" stroke-width="0.9"/>
<line x1="484.4" y1="295.0" x2="484.4" y2="299.20000000000005" stroke="#B8203F" stroke-width="0.9"/>
<line x1="501.1" y1="299.09999999999997" x2="501.1" y2="303.3" stroke="#B8203F" stroke-width="0.9"/>
<path d="M316.70,236.30 H318.10V238.90 H319.50 H319.81V240.45 H320.44V242.00 H320.75 H320.91V244.50 H321.24V247.00 H321.40 H322.02V248.88 H323.27V250.75 H323.90 H324.36V252.62 H325.29V254.50 H325.75 H325.96V256.37 H326.38V258.23 H326.79V260.10 H327.00 H327.31V262.30 H327.94V264.50 H328.25 H328.67V266.58 H329.50V268.67 H330.33V270.75 H330.75 H331.38V273.25 H332.00 H332.48V275.12 H333.42V277.00 H333.90 H334.67V278.88 H336.23V280.75 H337.00 H337.77V281.68 H339.33V282.60 H340.10 H341.35V283.90 H342.60 H343.39V284.50 H344.96V285.10 H345.75 H347.00V286.40 H348.25 H349.19V287.00 H351.06V287.60 H352.00 H352.77V288.85 H354.33V290.10 H355.10 H355.70V291.60 H356.90V293.10 H357.50 H358.54V293.57 H360.62V294.03 H362.71V294.50 H363.75 H364.68V295.75 H365.60 L371.25,296.20 H372.18V297.70 H373.10 H390.00 H391.05V299.50 H392.10 H392.98V300.35 H394.73V301.20 H395.60 H397.00V302.40 H398.40 H399.37V302.70 H401.30V303.00 H403.23V303.30 H404.20 H405.35V304.00 H407.65V304.70 H408.80 L411.90,305.20 H412.77V305.95 H414.52V306.70 H415.40 H437.30 H438.45V307.50 H439.60 H440.30V308.60 H441.00 H454.60 H455.15V310.40 H455.70 H512.70" fill="none" stroke="#2B5685" stroke-width="1.3" stroke-linejoin="round"/>
<line x1="327" y1="258.0" x2="327" y2="262.20000000000005" stroke="#2B5685" stroke-width="0.9"/>
<line x1="332" y1="271.15" x2="332" y2="275.35" stroke="#2B5685" stroke-width="0.9"/>
<line x1="342.6" y1="281.79999999999995" x2="342.6" y2="286.0" stroke="#2B5685" stroke-width="0.9"/>
<line x1="348.25" y1="284.29999999999995" x2="348.25" y2="288.5" stroke="#2B5685" stroke-width="0.9"/>
<line x1="375.4" y1="295.7" x2="375.4" y2="299.90000000000003" stroke="#2B5685" stroke-width="0.9"/>
<line x1="410.2" y1="303.09999999999997" x2="410.2" y2="307.3" stroke="#2B5685" stroke-width="0.9"/>
<line x1="446.5" y1="306.5" x2="446.5" y2="310.70000000000005" stroke="#2B5685" stroke-width="0.9"/>
<line x1="504.6" y1="308.29999999999995" x2="504.6" y2="312.5" stroke="#2B5685" stroke-width="0.9"/>
<line x1="512.3" y1="308.29999999999995" x2="512.3" y2="312.5" stroke="#2B5685" stroke-width="0.9"/>
<text transform="translate(307.2,361.0) scale(0.92,1)" font-size="8.15" fill="#1e1e1e" stroke="#1e1e1e" stroke-width="0.1">Number at risk</text>
<line x1="292.5" y1="369.75" x2="307.3" y2="369.75" stroke="#8A4458" stroke-width="1.1"/>
<text transform="translate(316.95,372.50) scale(0.9,1)" font-size="9" fill="#1e1e1e" stroke="#1e1e1e" stroke-width="0.1" text-anchor="middle">54</text>
<text transform="translate(354.45,372.50) scale(0.9,1)" font-size="9" fill="#1e1e1e" stroke="#1e1e1e" stroke-width="0.1" text-anchor="middle">27</text>
<text transform="translate(391.95,372.50) scale(0.9,1)" font-size="9" fill="#1e1e1e" stroke="#1e1e1e" stroke-width="0.1" text-anchor="middle">18</text>
<text transform="translate(429.45,372.50) scale(0.9,1)" font-size="9" fill="#1e1e1e" stroke="#1e1e1e" stroke-width="0.1" text-anchor="middle">16</text>
<text transform="translate(466.95,372.50) scale(0.9,1)" font-size="9" fill="#1e1e1e" stroke="#1e1e1e" stroke-width="0.1" text-anchor="middle">12</text>
<text transform="translate(504.45,372.50) scale(0.9,1)" font-size="9" fill="#1e1e1e" stroke="#1e1e1e" stroke-width="0.1" text-anchor="middle">7</text>
<line x1="292.5" y1="381.45" x2="307.3" y2="381.45" stroke="#4C5F74" stroke-width="1.1"/>
<text transform="translate(316.95,384.20) scale(0.9,1)" font-size="9" fill="#1e1e1e" stroke="#1e1e1e" stroke-width="0.1" text-anchor="middle">88</text>
<text transform="translate(354.45,384.20) scale(0.9,1)" font-size="9" fill="#1e1e1e" stroke="#1e1e1e" stroke-width="0.1" text-anchor="middle">28</text>
<text transform="translate(391.95,384.20) scale(0.9,1)" font-size="9" fill="#1e1e1e" stroke="#1e1e1e" stroke-width="0.1" text-anchor="middle">17</text>
<text transform="translate(429.45,384.20) scale(0.9,1)" font-size="9" fill="#1e1e1e" stroke="#1e1e1e" stroke-width="0.1" text-anchor="middle">10</text>
<text transform="translate(466.95,384.20) scale(0.9,1)" font-size="9" fill="#1e1e1e" stroke="#1e1e1e" stroke-width="0.1" text-anchor="middle">6</text>
<text transform="translate(504.45,384.20) scale(0.9,1)" font-size="9" fill="#1e1e1e" stroke="#1e1e1e" stroke-width="0.1" text-anchor="middle">6</text>
<text x="7.0" y="421.1" font-size="11.2" font-weight="bold" fill="#000">E</text>
<line x1="71.2" y1="419.8" x2="78.7" y2="419.8" stroke="#B8203F" stroke-width="1.0"/>
<line x1="74.95" y1="418.00" x2="74.95" y2="421.60" stroke="#B8203F" stroke-width="1.0"/>
<text x="82.10" y="422.35" font-size="8.3" textLength="59.20" lengthAdjust="spacingAndGlyphs" fill="#1e1e1e">6MWT =&gt; 200 m</text>
<line x1="149.5" y1="419.8" x2="157.6" y2="419.8" stroke="#2F5A87" stroke-width="1.0"/>
<line x1="153.55" y1="418.00" x2="153.55" y2="421.60" stroke="#2F5A87" stroke-width="1.0"/>
<text x="162.50" y="422.35" font-size="8.3" textLength="49.30" lengthAdjust="spacingAndGlyphs" fill="#1e1e1e">6MWT&lt;200 m</text>
<path d="M41.6,435.8 V525.3 H247.6" fill="none" stroke="#262626" stroke-width="1.3" stroke-linejoin="round"/>
<line x1="38.6" y1="521.40" x2="41.6" y2="521.40" stroke="#262626" stroke-width="1"/>
<text transform="translate(34.90,524.20) scale(0.92,1)" font-size="8.3" fill="#1e1e1e" text-anchor="end">0.00</text>
<line x1="38.6" y1="500.65" x2="41.6" y2="500.65" stroke="#262626" stroke-width="1"/>
<text transform="translate(34.90,503.45) scale(0.92,1)" font-size="8.3" fill="#1e1e1e" text-anchor="end">0.25</text>
<line x1="38.6" y1="479.90" x2="41.6" y2="479.90" stroke="#262626" stroke-width="1"/>
<text transform="translate(34.90,482.70) scale(0.92,1)" font-size="8.3" fill="#1e1e1e" text-anchor="end">0.50</text>
<line x1="38.6" y1="459.15" x2="41.6" y2="459.15" stroke="#262626" stroke-width="1"/>
<text transform="translate(34.90,461.95) scale(0.92,1)" font-size="8.3" fill="#1e1e1e" text-anchor="end">0.75</text>
<line x1="38.6" y1="438.40" x2="41.6" y2="438.40" stroke="#262626" stroke-width="1"/>
<text transform="translate(34.90,441.20) scale(0.92,1)" font-size="8.3" fill="#1e1e1e" text-anchor="end">1.00</text>
<line x1="51.10" y1="525.3" x2="51.10" y2="528.3" stroke="#262626" stroke-width="1"/>
<text transform="translate(51.25,538.20) scale(0.95,1)" font-size="8.3" fill="#1e1e1e" text-anchor="middle">0</text>
<line x1="88.60" y1="525.3" x2="88.60" y2="528.3" stroke="#262626" stroke-width="1"/>
<text transform="translate(88.75,538.20) scale(0.95,1)" font-size="8.3" fill="#1e1e1e" text-anchor="middle">12</text>
<line x1="126.10" y1="525.3" x2="126.10" y2="528.3" stroke="#262626" stroke-width="1"/>
<text transform="translate(126.25,538.20) scale(0.95,1)" font-size="8.3" fill="#1e1e1e" text-anchor="middle">24</text>
<line x1="163.60" y1="525.3" x2="163.60" y2="528.3" stroke="#262626" stroke-width="1"/>
<text transform="translate(163.75,538.20) scale(0.95,1)" font-size="8.3" fill="#1e1e1e" text-anchor="middle">36</text>
<line x1="201.10" y1="525.3" x2="201.10" y2="528.3" stroke="#262626" stroke-width="1"/>
<text transform="translate(201.25,538.20) scale(0.95,1)" font-size="8.3" fill="#1e1e1e" text-anchor="middle">48</text>
<line x1="238.60" y1="525.3" x2="238.60" y2="528.3" stroke="#262626" stroke-width="1"/>
<text transform="translate(238.75,538.20) scale(0.95,1)" font-size="8.3" fill="#1e1e1e" text-anchor="middle">60</text>
<text transform="translate(144.60,550.65) scale(0.75,1)" font-size="8.8" fill="#1e1e1e" stroke="#1e1e1e" stroke-width="0.3" text-anchor="middle">Time (months)</text>
<text transform="translate(14.10,480.55) rotate(-90) scale(0.74,1)" font-size="8.8" fill="#1e1e1e" stroke="#1e1e1e" stroke-width="0.3" text-anchor="middle">Survival probability</text>
<text x="208.8" y="441.8" font-size="8.15" fill="#1e1e1e" stroke="#1e1e1e" stroke-width="0.15"><tspan font-style="italic">P</tspan> <tspan stroke-width="0.55">=</tspan> .011</text>
<path d="M51.60,438.40 H56.60 H57.55V440.25 H58.50 H58.81V442.12 H59.44V444.00 H59.75 H59.96V446.08 H60.38V448.17 H60.79V450.25 H61.00 H61.15V452.75 H61.45V455.25 H61.60 H62.08V457.12 H63.02V459.00 H63.50 H64.12V461.50 H65.38V464.00 H66.00 H66.78V466.20 H68.32V468.40 H69.10 H70.05V469.95 H71.95V471.50 H72.90 H73.68V472.45 H75.22V473.40 H76.00 L77.25,473.40 H78.04V474.00 H79.61V474.60 H80.40 H81.18V475.85 H82.72V477.10 H83.50 H84.44V478.68 H86.31V480.25 H87.25 H88.19V482.12 H90.06V484.00 H91.00 H92.25V484.62 H94.75V485.25 H96.00 H97.25V485.57 H99.75V485.90 H101.00 H101.94V486.82 H103.81V487.75 H104.75 H105.42V488.50 H106.10 L110.20,489.00 H111.20V489.75 H113.20V490.50 H114.20 H115.22V490.90 H117.28V491.30 H118.30 H119.15V492.60 H120.00 H129.20 H130.07V493.40 H131.82V494.20 H132.70 L139.20,494.20 H140.10V494.90 H141.00 H168.10 H168.95V496.30 H169.80 H170.80V496.70 H172.80V497.10 H173.80 H174.95V497.90 H176.10 H176.97V498.20 H178.70V498.50 H180.43V498.80 H181.30 L183.10,499.30 H189.40 H190.35V500.60 H191.30 L194.40,501.00 H195.35V502.50 H196.30 H247.30" fill="none" stroke="#B8203F" stroke-width="1.3" stroke-linejoin="round"/>
<line x1="77.25" y1="471.29999999999995" x2="77.25" y2="475.5" stroke="#B8203F" stroke-width="0.9"/>
<line x1="110.2" y1="486.9" x2="110.2" y2="491.1" stroke="#B8203F" stroke-width="0.9"/>
<line x1="114.2" y1="488.4" x2="114.2" y2="492.6" stroke="#B8203F" stroke-width="0.9"/>
<line x1="181.3" y1="496.7" x2="181.3" y2="500.90000000000003" stroke="#B8203F" stroke-width="0.9"/>
<line x1="207.8" y1="500.4" x2="207.8" y2="504.6" stroke="#B8203F" stroke-width="0.9"/>
<line x1="218.8" y1="500.4" x2="218.8" y2="504.6" stroke="#B8203F" stroke-width="0.9"/>
<line x1="236.5" y1="500.4" x2="236.5" y2="504.6" stroke="#B8203F" stroke-width="0.9"/>
<line x1="239" y1="500.4" x2="239" y2="504.6" stroke="#B8203F" stroke-width="0.9"/>
<line x1="246.9" y1="500.4" x2="246.9" y2="504.6" stroke="#B8203F" stroke-width="0.9"/>
<path d="M51.60,438.40 H52.85V440.90 H54.10 H54.42V443.07 H55.08V445.25 H55.40 H55.50V447.33 H55.70V449.42 H55.90V451.50 H56.00 H56.15V454.00 H56.45V456.50 H56.60 H57.25V459.00 H57.90 H58.83V459.60 H59.75 H60.38V460.90 H61.00 H61.95V462.75 H62.90 H63.36V464.93 H64.29V467.10 H64.75 H65.06V468.68 H65.69V470.25 H66.00 H66.31V472.75 H66.94V475.25 H67.25 H67.88V477.75 H69.12V480.25 H69.75 H70.21V482.12 H71.14V484.00 H71.60 H72.39V485.88 H73.96V487.75 H74.75 H75.54V489.62 H77.11V491.50 H77.90 H79.15V492.75 H80.40 H81.18V493.07 H82.72V493.40 H83.50 H84.25V494.95 H85.75V496.50 H86.50 H87.47V496.90 H89.40V497.30 H91.33V497.70 H92.30 H92.90V499.40 H93.50 H98.60 H98.75V501.55 H99.05V503.70 H99.20 H124.60 H124.88V505.60 H125.42V507.50 H125.70 H126.58V507.80 H128.32V508.10 H129.20 H129.80V510.10 H130.40 H134.60 H135.20V512.40 H135.80 H145.00 L145.40,514.40 H169.20 H169.50V516.50 H169.80 H247.50" fill="none" stroke="#2B5685" stroke-width="1.3" stroke-linejoin="round"/>
<line x1="61" y1="458.79999999999995" x2="61" y2="463.0" stroke="#2B5685" stroke-width="0.9"/>
<text transform="translate(41.800000000000004,563.3) scale(0.92,1)" font-size="8.15" fill="#1e1e1e" stroke="#1e1e1e" stroke-width="0.1">Number at risk</text>
<line x1="26.8" y1="572.25" x2="42.2" y2="572.25" stroke="#8A4458" stroke-width="1.1"/>
<text transform="translate(51.55,575.00) scale(0.9,1)" font-size="9" fill="#1e1e1e" stroke="#1e1e1e" stroke-width="0.1" text-anchor="middle">68</text>
<text transform="translate(89.05,575.00) scale(0.9,1)" font-size="9" fill="#1e1e1e" stroke="#1e1e1e" stroke-width="0.1" text-anchor="middle">32</text>
<text transform="translate(126.55,575.00) scale(0.9,1)" font-size="9" fill="#1e1e1e" stroke="#1e1e1e" stroke-width="0.1" text-anchor="middle">21</text>
<text transform="translate(164.05,575.00) scale(0.9,1)" font-size="9" fill="#1e1e1e" stroke="#1e1e1e" stroke-width="0.1" text-anchor="middle">19</text>
<text transform="translate(201.55,575.00) scale(0.9,1)" font-size="9" fill="#1e1e1e" stroke="#1e1e1e" stroke-width="0.1" text-anchor="middle">13</text>
<text transform="translate(239.05,575.00) scale(0.9,1)" font-size="9" fill="#1e1e1e" stroke="#1e1e1e" stroke-width="0.1" text-anchor="middle">10</text>
<line x1="26.8" y1="583.7" x2="42.2" y2="583.7" stroke="#4C5F74" stroke-width="1.1"/>
<text transform="translate(51.55,586.45) scale(0.9,1)" font-size="9" fill="#1e1e1e" stroke="#1e1e1e" stroke-width="0.1" text-anchor="middle">40</text>
<text transform="translate(89.05,586.45) scale(0.9,1)" font-size="9" fill="#1e1e1e" stroke="#1e1e1e" stroke-width="0.1" text-anchor="middle">11</text>
<text transform="translate(126.55,586.45) scale(0.9,1)" font-size="9" fill="#1e1e1e" stroke="#1e1e1e" stroke-width="0.1" text-anchor="middle">6</text>
<text transform="translate(164.05,586.45) scale(0.9,1)" font-size="9" fill="#1e1e1e" stroke="#1e1e1e" stroke-width="0.1" text-anchor="middle">3</text>
<text transform="translate(201.55,586.45) scale(0.9,1)" font-size="9" fill="#1e1e1e" stroke="#1e1e1e" stroke-width="0.1" text-anchor="middle">2</text>
<text transform="translate(239.05,586.45) scale(0.9,1)" font-size="9" fill="#1e1e1e" stroke="#1e1e1e" stroke-width="0.1" text-anchor="middle">2</text>
<text x="272.2" y="421.0" font-size="11.2" font-weight="bold" fill="#000">F</text>
<line x1="350.1" y1="419.7" x2="358.2" y2="419.7" stroke="#B8203F" stroke-width="1.0"/>
<line x1="354.15" y1="417.90" x2="354.15" y2="421.50" stroke="#B8203F" stroke-width="1.0"/>
<text x="360.50" y="422.25" font-size="8.3" textLength="50.50" lengthAdjust="spacingAndGlyphs" fill="#1e1e1e">No Bortezomib</text>
<line x1="418.8" y1="419.7" x2="427.1" y2="419.7" stroke="#2F5A87" stroke-width="1.0"/>
<line x1="422.95" y1="417.90" x2="422.95" y2="421.50" stroke="#2F5A87" stroke-width="1.0"/>
<text x="431.80" y="422.25" font-size="8.3" textLength="38.40" lengthAdjust="spacingAndGlyphs" fill="#1e1e1e">Bortezomib</text>
<path d="M307.2,436.0 V525.3 H512.9" fill="none" stroke="#262626" stroke-width="1.3" stroke-linejoin="round"/>
<line x1="304.2" y1="521.40" x2="307.2" y2="521.40" stroke="#262626" stroke-width="1"/>
<text transform="translate(300.50,524.20) scale(0.92,1)" font-size="8.3" fill="#1e1e1e" text-anchor="end">0.00</text>
<line x1="304.2" y1="500.65" x2="307.2" y2="500.65" stroke="#262626" stroke-width="1"/>
<text transform="translate(300.50,503.45) scale(0.92,1)" font-size="8.3" fill="#1e1e1e" text-anchor="end">0.25</text>
<line x1="304.2" y1="479.90" x2="307.2" y2="479.90" stroke="#262626" stroke-width="1"/>
<text transform="translate(300.50,482.70) scale(0.92,1)" font-size="8.3" fill="#1e1e1e" text-anchor="end">0.50</text>
<line x1="304.2" y1="459.15" x2="307.2" y2="459.15" stroke="#262626" stroke-width="1"/>
<text transform="translate(300.50,461.95) scale(0.92,1)" font-size="8.3" fill="#1e1e1e" text-anchor="end">0.75</text>
<line x1="304.2" y1="438.40" x2="307.2" y2="438.40" stroke="#262626" stroke-width="1"/>
<text transform="translate(300.50,441.20) scale(0.92,1)" font-size="8.3" fill="#1e1e1e" text-anchor="end">1.00</text>
<line x1="316.50" y1="525.3" x2="316.50" y2="528.3" stroke="#262626" stroke-width="1"/>
<text transform="translate(316.65,538.20) scale(0.95,1)" font-size="8.3" fill="#1e1e1e" text-anchor="middle">0</text>
<line x1="354.00" y1="525.3" x2="354.00" y2="528.3" stroke="#262626" stroke-width="1"/>
<text transform="translate(354.15,538.20) scale(0.95,1)" font-size="8.3" fill="#1e1e1e" text-anchor="middle">12</text>
<line x1="391.50" y1="525.3" x2="391.50" y2="528.3" stroke="#262626" stroke-width="1"/>
<text transform="translate(391.65,538.20) scale(0.95,1)" font-size="8.3" fill="#1e1e1e" text-anchor="middle">24</text>
<line x1="429.00" y1="525.3" x2="429.00" y2="528.3" stroke="#262626" stroke-width="1"/>
<text transform="translate(429.15,538.20) scale(0.95,1)" font-size="8.3" fill="#1e1e1e" text-anchor="middle">36</text>
<line x1="466.50" y1="525.3" x2="466.50" y2="528.3" stroke="#262626" stroke-width="1"/>
<text transform="translate(466.65,538.20) scale(0.95,1)" font-size="8.3" fill="#1e1e1e" text-anchor="middle">48</text>
<line x1="504.00" y1="525.3" x2="504.00" y2="528.3" stroke="#262626" stroke-width="1"/>
<text transform="translate(504.15,538.20) scale(0.95,1)" font-size="8.3" fill="#1e1e1e" text-anchor="middle">60</text>
<text transform="translate(410.05,550.65) scale(0.75,1)" font-size="8.8" fill="#1e1e1e" stroke="#1e1e1e" stroke-width="0.3" text-anchor="middle">Time (months)</text>
<text transform="translate(279.70,480.65) rotate(-90) scale(0.74,1)" font-size="8.8" fill="#1e1e1e" stroke="#1e1e1e" stroke-width="0.3" text-anchor="middle">Survival probability</text>
<text x="473.8" y="441.8" font-size="8.15" fill="#1e1e1e" stroke="#1e1e1e" stroke-width="0.15"><tspan font-style="italic">P</tspan> <tspan stroke-width="0.55">=</tspan> .0033</text>
<path d="M316.90,438.40 H317.70V439.65 H319.30V440.90 H320.10 H320.38V442.75 H320.93V444.60 H321.20 L321.20,447.75 H321.40V449.62 H321.80V451.50 H322.00 H322.48V453.05 H323.42V454.60 H323.90 H324.50V456.50 H325.10 H325.18V458.69 H325.34V460.88 H325.51V463.06 H325.67V465.25 H325.75 H326.06V467.75 H326.69V470.25 H327.00 H327.62V472.75 H328.88V475.25 H329.50 H330.12V477.75 H331.38V480.25 H332.00 H332.62V482.75 H333.88V485.25 H334.50 H335.00V487.50 H335.50 H335.85V489.70 H336.55V491.90 H336.90 H337.47V493.65 H338.62V495.40 H339.20 H340.35V498.30 H341.50 H342.65V499.40 H343.80 H344.10V501.15 H344.70V502.90 H345.00 L349.00,503.40 H349.60V504.90 H350.20 H354.80 H355.40V507.30 H356.00 H380.20 L380.70,509.50 H459.80 H460.50V512.10 H461.20 H488.10 H488.75V514.10 H489.40 H512.30" fill="none" stroke="#B8203F" stroke-width="1.3" stroke-linejoin="round"/>
<path d="M316.90,438.40 H317.86V439.95 H319.79V441.50 H320.75 H321.38V444.00 H322.62V446.50 H323.25 H323.88V448.38 H325.12V450.25 H325.75 H326.38V452.75 H327.00 H327.48V454.62 H328.42V456.50 H328.90 H329.36V458.70 H330.29V460.90 H330.75 H331.21V462.75 H332.14V464.60 H332.60 H333.08V466.50 H334.02V468.40 H334.50 H335.12V469.95 H336.38V471.50 H337.00 H337.94V472.45 H339.81V473.40 H340.75 H342.00V474.00 H344.50V474.60 H345.75 H346.69V475.85 H348.56V477.10 H349.50 H350.44V478.68 H352.31V480.25 H353.25 H354.50V481.50 H357.00V482.75 H358.25 H359.29V483.58 H361.38V484.42 H363.46V485.25 H364.50 H365.75V486.62 H368.25V488.00 H369.50 H370.45V489.15 H372.35V490.30 H373.30 H374.25V490.57 H376.15V490.83 H378.05V491.10 H379.00 H379.87V491.33 H381.60V491.57 H383.33V491.80 H384.20 H390.00 H390.95V493.50 H391.90 H393.00V494.55 H395.20V495.60 H396.30 H397.55V496.05 H400.05V496.50 H401.30 H402.55V497.15 H405.05V497.80 H406.30 H407.55V498.40 H410.05V499.00 H411.30 H412.23V499.80 H414.07V500.60 H415.00 H431.90 H432.67V501.45 H434.23V502.30 H435.00 H436.25V502.90 H438.75V503.50 H440.00 H440.88V503.70 H442.62V503.90 H444.38V504.10 H446.12V504.30 H447.00 L453.10,504.70 H454.10V505.20 H456.10V505.70 H457.10 H462.50 H463.50V506.60 H464.50 H486.70 H487.40V508.00 H488.10 H512.80" fill="none" stroke="#2B5685" stroke-width="1.3" stroke-linejoin="round"/>
<line x1="327" y1="450.65" x2="327" y2="454.85" stroke="#2B5685" stroke-width="0.9"/>
<line x1="332.6" y1="462.5" x2="332.6" y2="466.70000000000005" stroke="#2B5685" stroke-width="0.9"/>
<line x1="342.6" y1="472.2" x2="342.6" y2="476.40000000000003" stroke="#2B5685" stroke-width="0.9"/>
<line x1="347.6" y1="473.15" x2="347.6" y2="477.35" stroke="#2B5685" stroke-width="0.9"/>
<line x1="369.9" y1="486.5" x2="369.9" y2="490.70000000000005" stroke="#2B5685" stroke-width="0.9"/>
<line x1="375.6" y1="488.4" x2="375.6" y2="492.6" stroke="#2B5685" stroke-width="0.9"/>
<line x1="379" y1="489.0" x2="379" y2="493.20000000000005" stroke="#2B5685" stroke-width="0.9"/>
<line x1="447" y1="502.2" x2="447" y2="506.40000000000003" stroke="#2B5685" stroke-width="0.9"/>
<line x1="472.6" y1="504.5" x2="472.6" y2="508.70000000000005" stroke="#2B5685" stroke-width="0.9"/>
<line x1="484" y1="504.5" x2="484" y2="508.70000000000005" stroke="#2B5685" stroke-width="0.9"/>
<line x1="501.3" y1="505.9" x2="501.3" y2="510.1" stroke="#2B5685" stroke-width="0.9"/>
<line x1="504.2" y1="505.9" x2="504.2" y2="510.1" stroke="#2B5685" stroke-width="0.9"/>
<line x1="512.3" y1="505.9" x2="512.3" y2="510.1" stroke="#2B5685" stroke-width="0.9"/>
<text transform="translate(307.2,563.3) scale(0.92,1)" font-size="8.15" fill="#1e1e1e" stroke="#1e1e1e" stroke-width="0.1">Number at risk</text>
<line x1="292.5" y1="572.25" x2="307.3" y2="572.25" stroke="#8A4458" stroke-width="1.1"/>
<text transform="translate(316.95,575.00) scale(0.9,1)" font-size="9" fill="#1e1e1e" stroke="#1e1e1e" stroke-width="0.1" text-anchor="middle">37</text>
<text transform="translate(354.45,575.00) scale(0.9,1)" font-size="9" fill="#1e1e1e" stroke="#1e1e1e" stroke-width="0.1" text-anchor="middle">7</text>
<text transform="translate(391.95,575.00) scale(0.9,1)" font-size="9" fill="#1e1e1e" stroke="#1e1e1e" stroke-width="0.1" text-anchor="middle">5</text>
<text transform="translate(429.45,575.00) scale(0.9,1)" font-size="9" fill="#1e1e1e" stroke="#1e1e1e" stroke-width="0.1" text-anchor="middle">5</text>
<text transform="translate(466.95,575.00) scale(0.9,1)" font-size="9" fill="#1e1e1e" stroke="#1e1e1e" stroke-width="0.1" text-anchor="middle">4</text>
<text transform="translate(504.45,575.00) scale(0.9,1)" font-size="9" fill="#1e1e1e" stroke="#1e1e1e" stroke-width="0.1" text-anchor="middle">3</text>
<line x1="292.5" y1="583.7" x2="307.3" y2="583.7" stroke="#4C5F74" stroke-width="1.1"/>
<text transform="translate(316.95,586.45) scale(0.9,1)" font-size="9" fill="#1e1e1e" stroke="#1e1e1e" stroke-width="0.1" text-anchor="middle">101</text>
<text transform="translate(354.45,586.45) scale(0.9,1)" font-size="9" fill="#1e1e1e" stroke="#1e1e1e" stroke-width="0.1" text-anchor="middle">46</text>
<text transform="translate(391.95,586.45) scale(0.9,1)" font-size="9" fill="#1e1e1e" stroke="#1e1e1e" stroke-width="0.1" text-anchor="middle">28</text>
<text transform="translate(429.45,586.45) scale(0.9,1)" font-size="9" fill="#1e1e1e" stroke="#1e1e1e" stroke-width="0.1" text-anchor="middle">21</text>
<text transform="translate(466.95,586.45) scale(0.9,1)" font-size="9" fill="#1e1e1e" stroke="#1e1e1e" stroke-width="0.1" text-anchor="middle">14</text>
<text transform="translate(504.45,586.45) scale(0.9,1)" font-size="9" fill="#1e1e1e" stroke="#1e1e1e" stroke-width="0.1" text-anchor="middle">10</text>
</svg>
</body></html>
